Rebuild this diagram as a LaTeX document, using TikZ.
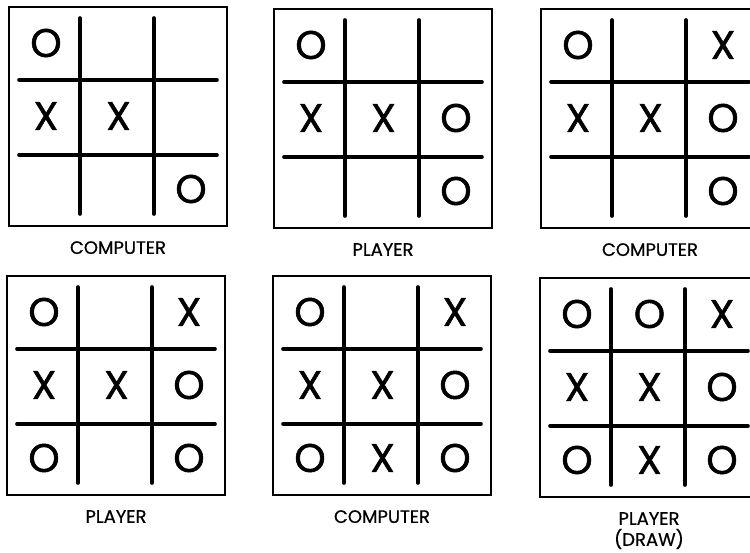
\documentclass[tikz,border=0pt]{standalone}
\usepackage{fontspec}
\setmainfont{Poppins}
\newfontfamily\piecefont[FakeBold=1.2]{Poppins}
\newfontfamily\whofont[FakeBold=0.6]{Poppins}
\usetikzlibrary{positioning}

\begin{document}
\begin{tikzpicture}[x=1pt, y=-1pt,
    node distance=14pt,
    boardframe/.style={draw, line width=2pt, minimum width=218pt,
                       minimum height=219pt, inner sep=0pt, anchor=north west},
    gridline/.style={line width=3.6pt, line cap=round},
    piece/.style={font=\piecefont\fontsize{40}{40}\selectfont, inner sep=0pt},
    who/.style={font=\whofont\fontsize{18}{21}\selectfont, align=center, inner sep=0pt}]
  \useasboundingbox (0,0) rectangle (750,552);
  % one board per move
  \foreach \pos/\mover/\marks [count=\i] in {
      {8,6}/COMPUTER/{O/1/1,X/1/2,X/2/2,O/3/3},
      {273,8}/PLAYER/{O/1/1,X/1/2,X/2/2,O/3/2,O/3/3},
      {540,8}/COMPUTER/{O/1/1,X/3/1,X/1/2,X/2/2,O/3/2,O/3/3},
      {6,275}/PLAYER/{O/1/1,X/3/1,X/1/2,X/2/2,O/3/2,O/1/3,O/3/3},
      {272,275}/COMPUTER/{O/1/1,X/3/1,X/1/2,X/2/2,O/3/2,O/1/3,X/2/3,O/3/3},
      {539,277}/{PLAYER\\(DRAW)}/{O/1/1,O/2/1,X/3/1,X/1/2,X/2/2,O/3/2,O/1/3,X/2/3,O/3/3}} {
    \begin{scope}[shift={(\pos)}]
      \node[boardframe] (b\i) at (0,0) {};
      \draw[gridline] (72,12) -- (72,208);
      \draw[gridline] (146,12) -- (146,208);
      \draw[gridline] (11,74) -- (209,74);
      \draw[gridline] (11,149) -- (209,149);
      \foreach \m/\c/\r in \marks
        \node[piece] (b\i-\c\r) at ({38+72.5*(\c-1)},{37+73*(\r-1)}) {\m};
    \end{scope}
    \node[who, below=of b\i] (mover\i) {\mover};
  }
\end{tikzpicture}
\end{document}
